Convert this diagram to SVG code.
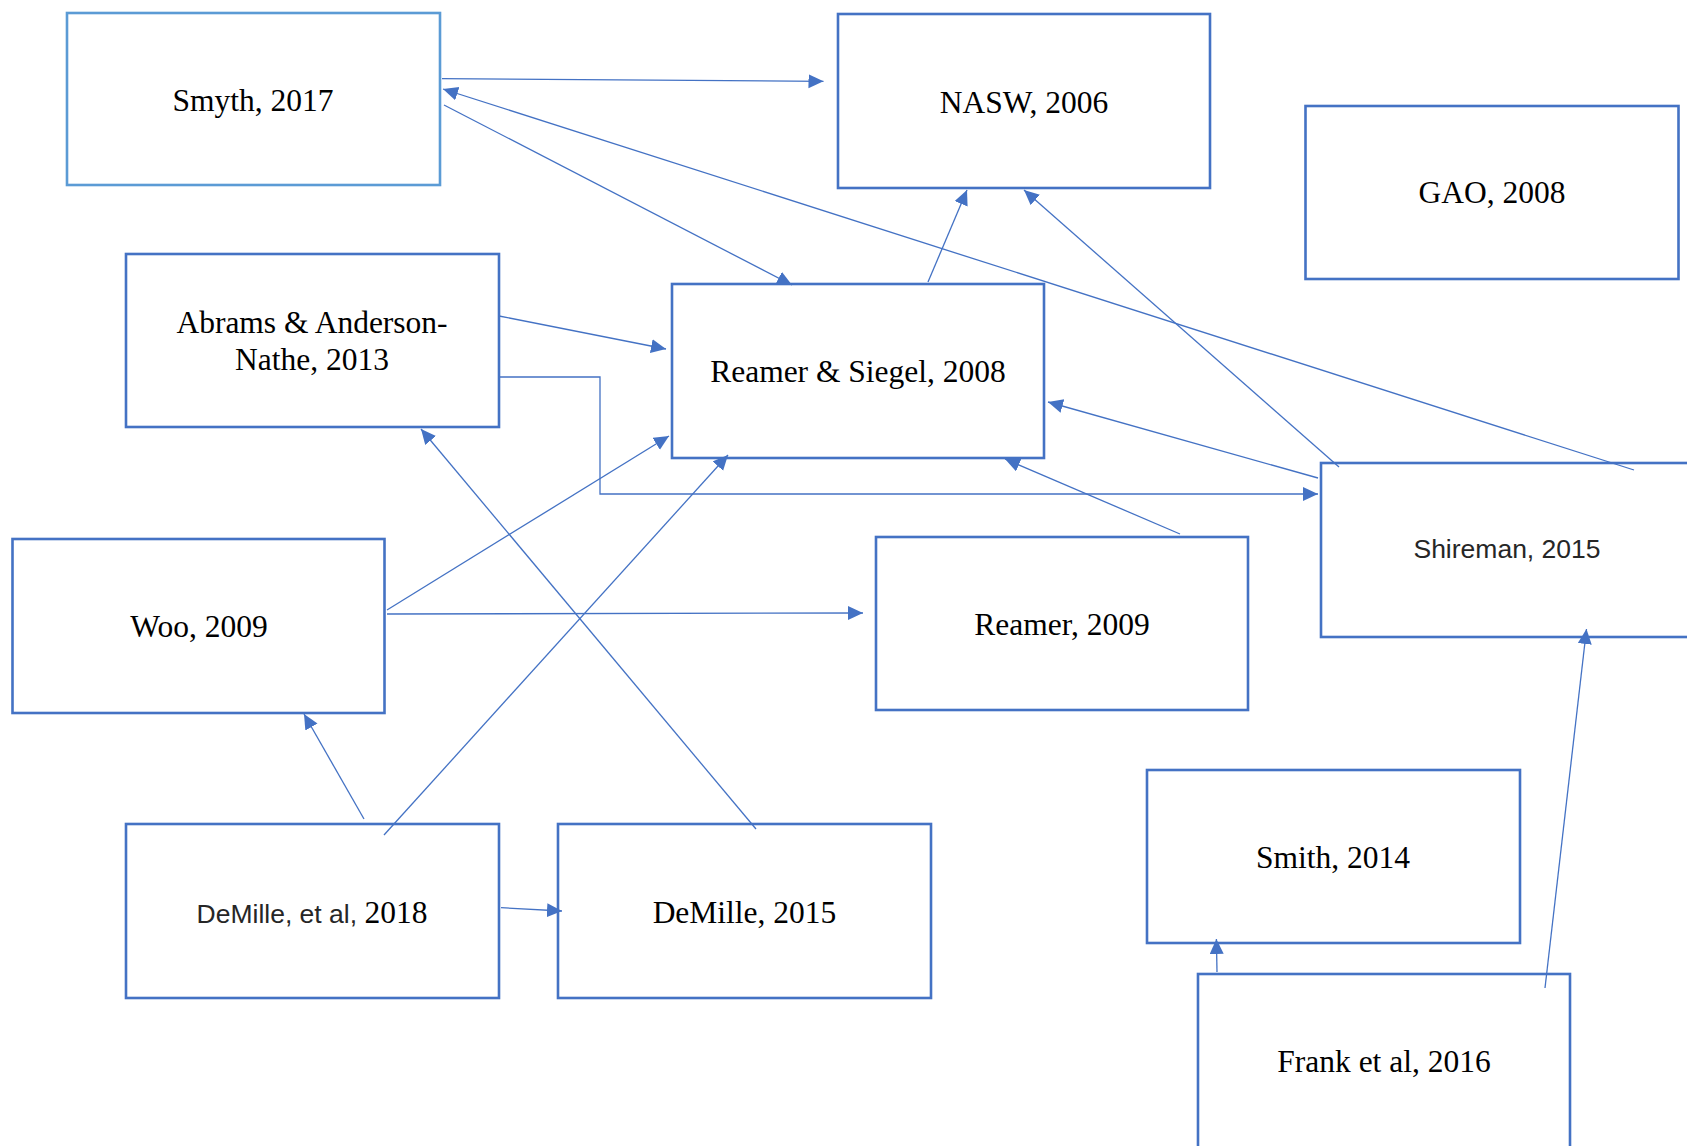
<svg xmlns="http://www.w3.org/2000/svg" width="1687" height="1146" viewBox="0 0 1687 1146">
<style>
.box{fill:#fff;stroke:#4472C4;stroke-width:2.6}
.box2{fill:#fff;stroke:#5B9BD5;stroke-width:2.6}
.t{font-family:"Liberation Serif","Times New Roman",serif;font-size:31.5px;fill:#000;text-anchor:middle}
.s{font-family:"Liberation Sans",Arial,sans-serif;font-size:26.5px;fill:#262626}
.c{fill:none;stroke:#4472C4;stroke-width:1.3;marker-end:url(#ah)}
</style>
<defs>
<marker id="ah" markerUnits="userSpaceOnUse" markerWidth="16" markerHeight="16" refX="15" refY="7" orient="auto">
<path d="M0,0 L15,7 L0,14 z" fill="#4472C4"/>
</marker>
</defs>
<rect width="1687" height="1146" fill="#fff"/>
<g id="smyth"><rect class="box2" x="67" y="13" width="373" height="172"/><text class="t" x="253" y="111">Smyth, 2017</text></g>
<g id="nasw"><rect class="box" x="838" y="14" width="372" height="174"/><text class="t" x="1024" y="113">NASW, 2006</text></g>
<g id="gao"><rect class="box" x="1305.5" y="106" width="373" height="173"/><text class="t" x="1492" y="203">GAO, 2008</text></g>
<g id="abrams"><rect class="box" x="126" y="254" width="373" height="173"/><text class="t" x="312" y="333">Abrams &amp; Anderson-</text><text class="t" x="312" y="370">Nathe, 2013</text></g>
<g id="reamer-siegel"><rect class="box" x="672" y="284" width="372" height="174"/><text class="t" x="858" y="382">Reamer &amp; Siegel, 2008</text></g>
<g id="shireman"><rect class="box" x="1321" y="463" width="372" height="174"/><text class="s" x="1507" y="558" text-anchor="middle">Shireman, 2015</text></g>
<g id="woo"><rect class="box" x="12.5" y="539" width="372" height="174"/><text class="t" x="199" y="637">Woo, 2009</text></g>
<g id="reamer"><rect class="box" x="876" y="537" width="372" height="173"/><text class="t" x="1062" y="635">Reamer, 2009</text></g>
<g id="demille-etal"><rect class="box" x="126" y="824" width="373" height="174"/><text x="312" y="923" text-anchor="middle"><tspan class="s">DeMille, et al, </tspan><tspan class="t">2018</tspan></text></g>
<g id="demille"><rect class="box" x="558" y="824" width="373" height="174"/><text class="t" x="744.5" y="923">DeMille, 2015</text></g>
<g id="smith"><rect class="box" x="1147" y="770" width="373" height="173"/><text class="t" x="1333" y="868">Smith, 2014</text></g>
<g id="frank"><rect class="box" x="1198" y="974" width="372" height="174"/><text class="t" x="1384" y="1072">Frank et al, 2016</text></g>
<g id="connectors">
<path class="c" d="M442,78.7 L823.5,81.3"/>
<path class="c" d="M444,105 L792,285"/>
<path class="c" d="M1634,470 L443,89"/>
<path class="c" d="M499,316 L666,349"/>
<path class="c" d="M928,282 L967,190"/>
<path class="c" d="M1339,467 L1024,190"/>
<path class="c" d="M1318,478 L1048,402"/>
<path class="c" d="M499,377 H600 V494 H1318"/>
<path class="c" d="M1180,534 L1005,459"/>
<path class="c" d="M387,610 L669,436"/>
<path class="c" d="M387,614 L863,613"/>
<path class="c" d="M384,835 L728,455"/>
<path class="c" d="M756,829 L421,429"/>
<path class="c" d="M364,819 L304,714"/>
<path class="c" d="M501,907.7 L562,911"/>
<path class="c" d="M1217,972 L1216.4,939"/>
<path class="c" d="M1545,988 L1586.5,629"/>
</g>
</svg>
